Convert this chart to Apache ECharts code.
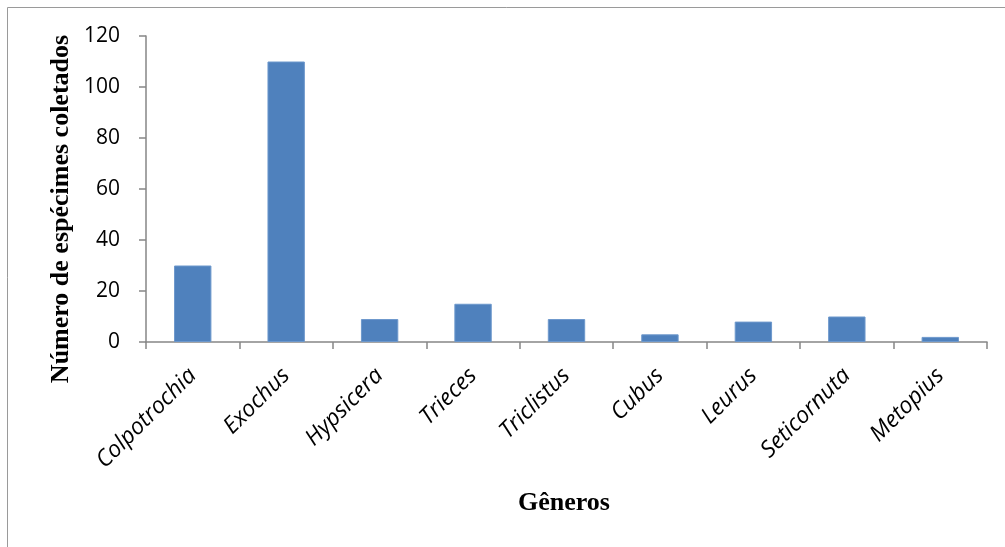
<!DOCTYPE html>
<html>
<head>
<meta charset="utf-8">
<script src="https://cdn.jsdelivr.net/npm/echarts@6/dist/echarts.min.js"></script>
<style>
  html, body { margin: 0; padding: 0; background: #ffffff; }
  #chart { width: 1005px; height: 547px; }
</style>
</head>
<body>
<div id="chart"></div>
<script>
// Genera of collected specimens and their counts
const generos = ['Colpotrochia', 'Exochus', 'Hypsicera', 'Trieces', 'Triclistus', 'Cubus', 'Leurus', 'Seticornuta', 'Metopius'];
const especimes = [30, 110, 9, 15, 9, 3, 8, 10, 2];
const yTicks = [0, 20, 40, 60, 80, 100, 120];
const tituloY = 'Número de espécimes coletados';
const tituloX = 'Gêneros';

const titleFont = { fontFamily: 'Liberation Serif', fontWeight: 'bold', fontSize: 26, fill: '#000' };

const chart = echarts.init(document.getElementById('chart'));

chart.setOption({
  animation: false,
  backgroundColor: '#ffffff',
  graphic: [
    {
      type: 'rect',
      shape: { x: 7.5, y: 7.5, width: 1100, height: 700 },
      style: { fill: 'none', stroke: '#9a9a9a', lineWidth: 1 },
      silent: true
    },
    {
      type: 'text',
      x: 61,
      y: 209,
      rotation: Math.PI / 2,
      style: Object.assign({ text: tituloY, align: 'center', verticalAlign: 'middle' }, titleFont),
      silent: true
    },
    {
      type: 'text',
      x: 564,
      y: 503,
      style: Object.assign({ text: tituloX, align: 'center', verticalAlign: 'middle' }, titleFont),
      silent: true
    }
  ],
  grid: { left: 146, right: 18, top: 36, bottom: 205, containLabel: false },
  xAxis: {
    type: 'category',
    data: generos,
    axisLine: { lineStyle: { color: '#868686', width: 1.5 } },
    axisTick: { show: true, alignWithLabel: false, length: 7, lineStyle: { color: '#868686', width: 1.5 } },
    axisLabel: {
      rotate: 45,
      interval: 0,
      margin: 30,
      fontFamily: 'Open Sans',
      fontStyle: 'italic',
      fontSize: 23,
      color: '#000'
    }
  },
  yAxis: {
    type: 'value',
    min: 0,
    max: 120,
    interval: 20,
    axisLine: { show: true, lineStyle: { color: '#868686', width: 1.5 } },
    axisTick: { show: true, length: 7, lineStyle: { color: '#868686', width: 1.5 } },
    splitLine: { show: false },
    axisLabel: {
      margin: 26,
      fontFamily: 'Open Sans',
      fontSize: 21,
      color: '#000',
      formatter: function (v) { return yTicks.indexOf(v) >= 0 ? String(v) : ''; }
    }
  },
  series: [
    {
      type: 'bar',
      data: especimes,
      barWidth: '40%',
      itemStyle: { color: '#4F81BD', borderColor: '#6d98cc', borderWidth: 1 }
    }
  ]
});
</script>
</body>
</html>
